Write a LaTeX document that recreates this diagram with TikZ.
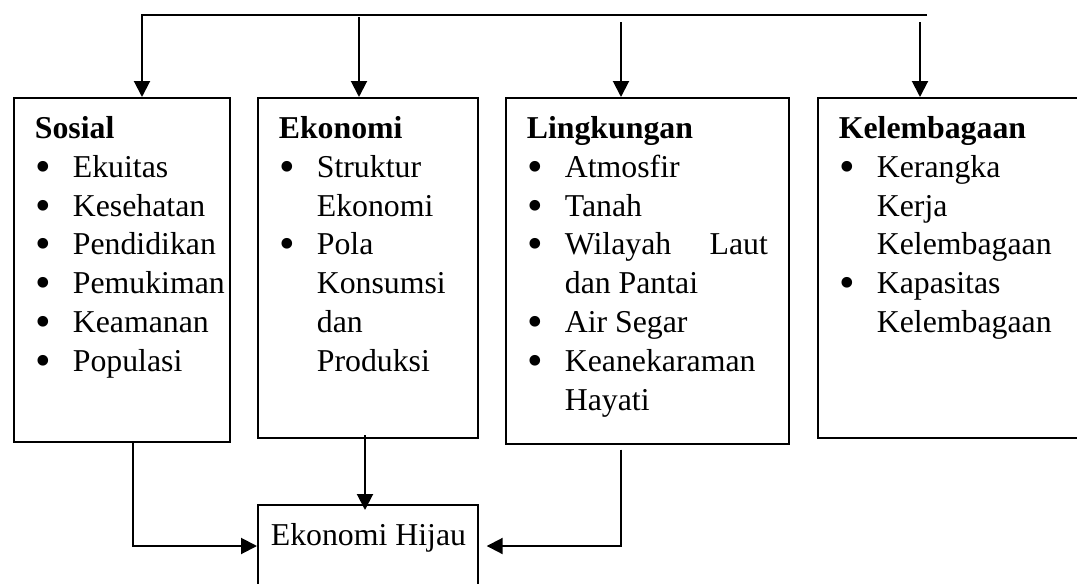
\documentclass[tikz,border=0pt]{standalone}
\usepackage{fontspec}
\usepackage{graphicx}
\setmainfont{Liberation Serif}
\usetikzlibrary{arrows.meta}

\newcommand{\bx}[4][10.5pt]{\parbox[c][#3][t]{#2}{\leftskip=#1\rightskip=10.5pt\parskip=0pt\rule{0pt}{20.35pt}#4}}
\newcommand{\dotb}{\raisebox{-2pt}{\scalebox{1.4}{\textbullet}}}
\newcommand{\itm}{\par\noindent\hangindent=19pt\hangafter=0\llap{\makebox[19pt][l]{\hspace{0.2pt}\dotb}}}

\tikzstyle{bS}=[draw, line width=0.85pt, inner sep=0pt, anchor=north west, font=\fontsize{15.9}{19.4}\selectfont]
\tikzstyle{aS}=[line width=1pt, -{Triangle[length=8pt,width=8pt]}]

\begin{document}
\begin{tikzpicture}[x=0.5pt, y=-0.5pt]
    \useasboundingbox (0,0) rectangle (1077,584);
    \clip (0,0) rectangle (1077,584);
    \draw (13,97) node[bS] (sosial) {\bx{108pt}{172pt}{\textbf{Sosial}
        \itm Ekuitas \itm Kesehatan \itm Pendidikan
        \itm Pemukiman \itm Keamanan \itm Populasi}};
    \draw (257,97) node[bS] (ekonomi) {\bx{110pt}{170pt}{\textbf{Ekonomi}
        \itm Struktur\\Ekonomi
        \itm Pola\\Konsumsi\\dan\\Produksi}};
    \draw (505,97) node[bS] (lingkungan) {\bx{141.5pt}{173pt}{\textbf{Lingkungan}
        \itm Atmosfir \itm Tanah
        \itm Wilayah\hfill Laut\\dan Pantai
        \itm Air Segar
        \itm Keanekaraman\\Hayati}};
    \draw (817,97) node[bS] (kelembagaan) {\bx{141.5pt}{170pt}{\textbf{Kelembagaan}
        \itm Kerangka\\Kerja\\Kelembagaan
        \itm Kapasitas\\Kelembagaan}};
    \draw (257,504) node[bS] (hijau) {\bx[6.5pt]{110pt}{60pt}{\mbox{Ekonomi Hijau}}};

    % top
    \coordinate (tl) at (142,15);
    \coordinate (tr) at (927,15);
    \coordinate (t2) at (359,17);
    \coordinate (t3) at (621,22);
    \coordinate (t4) at (920,22);
    \draw[aS] (tr) -- (tl) -- (tl |- sosial.north);
    \draw[aS] (t2) -- (t2 |- ekonomi.north);
    \draw[aS] (t3) -- (t3 |- lingkungan.north);
    \draw[aS] (t4) -- (t4 |- kelembagaan.north);

    % bottom
    \coordinate (b1) at (133,546);
    \coordinate (b2) at (365,435);
    \coordinate (b3) at (621,546);
    \draw[aS] (b1 |- sosial.south) -- (b1) -- (b1 -| hijau.west);
    \draw[aS, shorten >=-3pt] (b2) -- (b2 |- hijau.north);
    \draw[aS, shorten >=4pt] ([yshift=-2.5pt]lingkungan.south -| b3) -- (b3) -- (b3 -| hijau.east);
\end{tikzpicture}
\end{document}
